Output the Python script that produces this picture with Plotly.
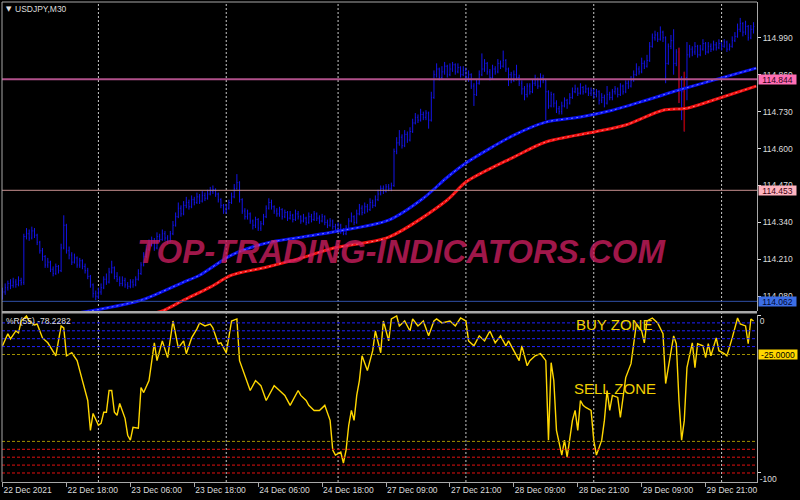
import plotly.graph_objects as go

# ---------------- data ----------------
# USDJPY M30 bars, first bar = 22 Dec 2021 06:00 (bar index = 30-minute steps, weekend removed)
close = [114.095,114.110,114.125,114.118,114.130,114.122,114.135,114.128,114.290,114.300,
114.285,114.310,114.295,114.270,114.240,114.220,114.190,114.200,114.175,114.160,
114.185,114.170,114.250,114.330,114.240,114.225,114.200,114.215,114.190,114.205,
114.185,114.170,114.150,114.120,114.090,114.080,114.095,114.110,114.140,114.130,
114.165,114.180,114.150,114.140,114.125,114.135,114.120,114.115,114.130,114.120,
114.140,114.160,114.190,114.220,114.245,114.260,114.275,114.250,114.290,114.280,
114.300,114.285,114.275,114.300,114.330,114.360,114.390,114.370,114.400,114.410,
114.395,114.420,114.410,114.430,114.415,114.435,114.425,114.440,114.450,114.455,
114.440,114.420,114.400,114.380,114.390,114.410,114.430,114.460,114.480,114.420,
114.380,114.360,114.370,114.345,114.330,114.350,114.320,114.335,114.360,114.390,
114.410,114.395,114.380,114.370,114.385,114.360,114.375,114.355,114.365,114.350,
114.370,114.360,114.345,114.355,114.340,114.360,114.350,114.370,114.355,114.345,
114.360,114.340,114.330,114.345,114.325,114.315,114.330,114.310,114.300,114.320,
114.345,114.360,114.340,114.370,114.390,114.375,114.395,114.385,114.410,114.400,
114.420,114.440,114.460,114.450,114.465,114.460,114.470,114.590,114.620,114.640,
114.610,114.650,114.630,114.660,114.690,114.710,114.700,114.720,114.710,114.725,
114.700,114.780,114.860,114.880,114.850,114.870,114.890,114.860,114.880,114.895,
114.870,114.885,114.860,114.875,114.850,114.860,114.820,114.790,114.830,114.860,
114.880,114.900,114.870,114.850,114.880,114.870,114.900,114.890,114.910,114.880,
114.860,114.840,114.860,114.850,114.830,114.810,114.790,114.820,114.800,114.830,
114.845,114.820,114.850,114.840,114.800,114.750,114.790,114.760,114.740,114.730,
114.750,114.770,114.760,114.780,114.800,114.810,114.795,114.815,114.800,114.810,
114.795,114.805,114.790,114.800,114.770,114.780,114.760,114.790,114.780,114.800,
114.810,114.790,114.820,114.800,114.830,114.820,114.840,114.860,114.880,114.870,
114.900,114.890,114.910,114.960,114.990,115.000,114.985,115.010,114.990,114.900,
114.960,114.980,114.900,114.940,114.850,114.800,114.850,114.930,114.950,114.940,
114.960,114.930,114.950,114.970,114.940,114.960,114.950,114.965,114.955,114.970,
114.960,114.975,114.950,114.960,114.980,114.995,115.020,115.040,115.010,115.030,
114.990,115.020,115.030]

high = [114.110,114.125,114.135,114.140,114.145,114.140,114.150,114.145,114.300,114.320,
114.315,114.325,114.320,114.300,114.275,114.250,114.225,114.215,114.205,114.185,
114.195,114.190,114.265,114.365,114.335,114.255,114.235,114.230,114.220,114.215,
114.210,114.195,114.180,114.155,114.125,114.100,114.110,114.125,114.150,114.160,
114.180,114.205,114.185,114.165,114.150,114.150,114.145,114.130,114.140,114.140,
114.150,114.175,114.200,114.235,114.260,114.280,114.290,114.285,114.305,114.300,
114.315,114.310,114.295,114.310,114.345,114.375,114.410,114.400,114.415,114.430,
114.420,114.435,114.430,114.445,114.440,114.450,114.445,114.455,114.465,114.470,
114.460,114.445,114.425,114.405,114.405,114.420,114.445,114.475,114.510,114.485,
114.425,114.390,114.385,114.375,114.350,114.360,114.355,114.345,114.370,114.400,
114.425,114.420,114.400,114.390,114.395,114.390,114.385,114.380,114.380,114.370,
114.385,114.380,114.365,114.370,114.360,114.375,114.370,114.380,114.375,114.365,
114.370,114.365,114.350,114.355,114.350,114.335,114.340,114.335,114.320,114.330,
114.355,114.375,114.365,114.385,114.405,114.400,114.410,114.405,114.425,114.420,
114.435,114.455,114.470,114.470,114.475,114.475,114.480,114.600,114.640,114.665,
114.650,114.665,114.660,114.675,114.705,114.725,114.720,114.740,114.730,114.735,
114.730,114.800,114.875,114.900,114.885,114.890,114.905,114.895,114.900,114.905,
114.900,114.900,114.890,114.890,114.885,114.875,114.865,114.830,114.845,114.875,
114.935,114.915,114.905,114.880,114.895,114.890,114.915,114.910,114.945,114.915,
114.885,114.870,114.875,114.895,114.860,114.840,114.820,114.830,114.830,114.845,
114.860,114.850,114.865,114.860,114.845,114.805,114.800,114.795,114.770,114.750,
114.765,114.780,114.775,114.795,114.815,114.825,114.815,114.830,114.820,114.825,
114.815,114.815,114.810,114.810,114.805,114.795,114.790,114.820,114.800,114.810,
114.820,114.815,114.830,114.825,114.840,114.840,114.855,114.875,114.900,114.890,
114.920,114.910,114.930,114.975,115.005,115.015,115.010,115.030,115.015,114.995,
114.970,115.000,115.020,114.950,114.955,114.855,114.870,114.975,114.965,114.960,
114.975,114.965,114.965,114.985,114.975,114.975,114.970,114.980,114.975,114.985,
114.975,114.985,114.980,114.970,114.995,115.010,115.040,115.060,115.045,115.050,
115.035,115.035,115.045]

low = [114.068,114.085,114.100,114.105,114.110,114.110,114.115,114.118,114.120,114.280,
114.275,114.280,114.285,114.260,114.230,114.205,114.180,114.180,114.165,114.150,
114.155,114.160,114.165,114.245,114.230,114.210,114.190,114.195,114.180,114.180,
114.175,114.160,114.140,114.110,114.075,114.066,114.070,114.085,114.105,114.120,
114.125,114.160,114.140,114.130,114.115,114.115,114.110,114.105,114.108,114.110,
114.115,114.135,114.155,114.185,114.215,114.240,114.255,114.240,114.245,114.270,
114.275,114.275,114.265,114.270,114.295,114.325,114.355,114.360,114.365,114.390,
114.385,114.390,114.400,114.405,114.405,114.410,114.415,114.420,114.435,114.440,
114.430,114.410,114.390,114.370,114.370,114.385,114.405,114.425,114.455,114.410,
114.370,114.350,114.350,114.335,114.315,114.320,114.310,114.310,114.330,114.355,
114.385,114.385,114.370,114.360,114.360,114.350,114.355,114.345,114.350,114.340,
114.345,114.350,114.335,114.340,114.330,114.335,114.340,114.345,114.345,114.335,
114.340,114.330,114.320,114.325,114.315,114.305,114.305,114.300,114.295,114.295,
114.315,114.340,114.330,114.335,114.365,114.365,114.370,114.375,114.380,114.390,
114.395,114.415,114.435,114.440,114.445,114.450,114.450,114.465,114.580,114.610,
114.600,114.605,114.620,114.625,114.655,114.685,114.690,114.695,114.700,114.700,
114.670,114.695,114.775,114.850,114.840,114.845,114.860,114.850,114.855,114.870,
114.860,114.865,114.850,114.855,114.840,114.835,114.810,114.750,114.785,114.825,
114.855,114.870,114.860,114.840,114.845,114.860,114.865,114.880,114.885,114.870,
114.820,114.830,114.835,114.840,114.820,114.790,114.770,114.780,114.790,114.795,
114.820,114.810,114.815,114.830,114.700,114.740,114.745,114.745,114.725,114.720,
114.720,114.745,114.740,114.755,114.775,114.795,114.785,114.790,114.790,114.795,
114.785,114.785,114.775,114.780,114.755,114.760,114.745,114.755,114.770,114.770,
114.790,114.780,114.785,114.790,114.795,114.810,114.815,114.835,114.855,114.860,
114.865,114.880,114.885,114.905,114.955,114.980,114.975,114.980,114.975,114.830,
114.895,114.950,114.860,114.890,114.760,114.700,114.660,114.770,114.920,114.925,
114.930,114.920,114.925,114.945,114.930,114.935,114.940,114.945,114.945,114.950,
114.945,114.955,114.940,114.945,114.955,114.975,114.990,115.010,114.995,115.000,
114.980,114.985,115.005]

first_open = 114.085
dark_bars = [254, 256]          # bars drawn in dark red

# moving averages (bar index, value)
ma_fast_bar = [28, 37, 52, 68, 74, 86, 99, 112, 124, 145, 158, 167, 174, 192, 204, 217, 229, 242, 254, 267, 283]
ma_fast_val = [114.021, 114.035, 114.066, 114.130, 114.154, 114.225, 114.267, 114.288, 114.306, 114.348,
               114.425, 114.499, 114.549, 114.647, 114.693, 114.711, 114.735, 114.771, 114.806, 114.841, 114.883]
ma_slow_bar = [57, 60, 68, 78, 86, 99, 112, 124, 145, 167, 174, 192, 204, 222, 234, 248, 257, 267, 283]
ma_slow_val = [114.021, 114.028, 114.066, 114.112, 114.154, 114.182, 114.214, 114.249, 114.288, 114.419,
               114.482, 114.570, 114.623, 114.658, 114.683, 114.735, 114.742, 114.771, 114.820]

# Williams %R(55)
wr_bar = [0,2,3,5,6,7,9,10,12,13,15,17,20,22,23,24,26,28,30,32,33,34,36,37,38,39,40,41,42,43,44,46,47,48,49,51,
          52,53,55,57,58,60,62,64,66,68,69,71,73,74,76,78,79,81,82,84,86,88,89,91,93,95,97,99,100,102,104,106,
          108,109,111,112,114,115,117,119,121,123,124,125,127,128,129,130,131,132,133,134,135,137,138,139,140,
          142,143,145,146,148,149,151,153,154,156,158,160,162,163,165,168,170,172,174,175,177,179,181,183,185,
          187,189,190,192,194,195,197,198,200,202,203,204,205,206,207,208,210,211,212,214,215,216,217,218,219,
          221,222,223,225,226,227,228,229,231,232,234,236,237,238,240,241,242,244,246,248,249,250,252,253,254,
          255,256,257,259,260,261,263,264,265,266,268,269,271,272,274,276,277,279,280,281,282]
wr_val = [-19.5,-11.9,-15.1,-10.1,-11.3,-3.8,-0.6,-3.8,-6.3,-5.7,-14.5,-17.6,-25.8,-6.9,-8.2,-25.8,-23.9,-28.9,
          -41.5,-54.1,-73.0,-62.3,-69.8,-68.6,-61.6,-61.6,-47.8,-47.8,-61.6,-63.5,-56.0,-65.4,-76.1,-79.2,-71.1,
          -71.7,-45.9,-49.1,-41.5,-17.6,-28.9,-16.4,-27.0,-3.8,-20.8,-16.4,-24.5,-14.5,-8.8,-5.0,-6.9,-5.7,-8.2,
          -18.2,-17.6,-23.9,-3.8,-2.5,-28.9,-38.4,-47.8,-41.5,-44.7,-54.1,-50.9,-44.7,-47.8,-50.9,-57.2,-54.1,
          -47.8,-50.9,-54.1,-57.2,-60.4,-60.4,-57.2,-66.7,-85.5,-88.7,-86.8,-93.7,-85.5,-69.8,-60.4,-66.7,-50.9,
          -41.5,-25.8,-35.2,-28.9,-22.6,-10.1,-23.9,-3.8,-16.4,-2.5,-0.6,-6.9,-3.8,-10.1,-2.5,-6.9,-3.8,-13.2,
          -3.8,-2.5,-5.0,-3.8,-6.9,-1.9,-3.8,-16.4,-19.5,-13.2,-16.4,-10.1,-17.6,-13.2,-19.5,-16.4,-22.6,-28.9,
          -19.5,-32.1,-28.9,-25.8,-24.5,-26.4,-28.9,-79.2,-30.2,-41.5,-73.0,-88.7,-79.2,-89.9,-66.7,-60.4,-73.0,
          -54.1,-57.2,-58.5,-60.4,-79.2,-88.7,-79.2,-66.7,-47.8,-60.4,-50.9,-52.2,-64.8,-39.6,-30.8,-16.4,-5.7,
          -10.1,-17.6,-3.8,-1.9,-5.0,-11.9,-43.4,-33.3,-13.2,-18.2,-54.1,-79.2,-66.7,-33.3,-17.6,-33.3,-18.2,
          -19.5,-27.0,-18.2,-25.8,-14.5,-22.6,-24.5,-25.8,-14.5,-1.9,-5.7,-6.9,-18.2,-2.5,-3.8]

# horizontal price lines
hline_vals = [114.844, 114.453, 114.062]
hline_text = ["114.844", "114.453", "114.062"]

# %R levels
wr_levels_blue = [-5, -10, -15, -20]
wr_levels_olive = [-25, -80]
wr_levels_red = [-85, -90, -95, -100]

# axis ticks
price_ticks = [114.990, 114.860, 114.730, 114.600, 114.470, 114.340, 114.210, 114.080]
time_tick_bars = [0, 24, 48, 72, 96, 120, 144, 168, 192, 216, 240, 264]
time_tick_text = ["22 Dec 2021", "22 Dec 18:00", "23 Dec 06:00", "23 Dec 18:00", "24 Dec 06:00",
                  "24 Dec 18:00", "27 Dec 09:00", "27 Dec 21:00", "28 Dec 09:00", "28 Dec 21:00",
                  "29 Dec 09:00", "29 Dec 21:00"]
day_start_bars = [36, 84, 126, 174, 222, 270]

# ---------------- figure ----------------
W, HP = 800, 500
ML, MR, MT, MB = 2, 43, 2, 18
PW, PH = W - ML - MR, HP - MT - MB


def fx(x):
    return (x - ML) / PW


def fy(y):
    return (HP - MB - y) / PH


FONT = "Liberation Sans, Arial, sans-serif"
TXT = "#dcdcdc"
GREY = "#a8a8a8"
BLUE = "#1414e8"

opens = [first_open] + close[:-1]
bars = list(range(len(close)))

fig = go.Figure()
fig.add_trace(go.Ohlc(x=bars, open=opens, high=high, low=low, close=close,
                      increasing_line_color=BLUE, decreasing_line_color=BLUE,
                      line_width=1, tickwidth=0.3, xaxis="x", yaxis="y", hoverinfo="skip"))
fig.add_trace(go.Ohlc(x=dark_bars, open=[opens[i] for i in dark_bars], high=[high[i] for i in dark_bars],
                      low=[low[i] for i in dark_bars], close=[close[i] for i in dark_bars],
                      increasing_line_color="#a00000", decreasing_line_color="#a00000",
                      line_width=1.5, tickwidth=0.3, xaxis="x", yaxis="y", hoverinfo="skip"))
fig.add_trace(go.Scatter(x=ma_slow_bar, y=ma_slow_val, mode="lines",
                         line=dict(color="#f01010", width=3, shape="spline", smoothing=0.8),
                         xaxis="x", yaxis="y", hoverinfo="skip"))
fig.add_trace(go.Scatter(x=ma_slow_bar, y=ma_slow_val, mode="lines",
                         line=dict(color="#ff8080", width=1, dash="2px,3px", shape="spline", smoothing=0.8),
                         xaxis="x", yaxis="y", hoverinfo="skip"))
fig.add_trace(go.Scatter(x=ma_fast_bar, y=ma_fast_val, mode="lines",
                         line=dict(color="#0a10f0", width=3, shape="spline", smoothing=0.8),
                         xaxis="x", yaxis="y", hoverinfo="skip"))
fig.add_trace(go.Scatter(x=ma_fast_bar, y=ma_fast_val, mode="lines",
                         line=dict(color="#7080ff", width=1, dash="2px,3px", shape="spline", smoothing=0.8),
                         xaxis="x", yaxis="y", hoverinfo="skip"))
fig.add_trace(go.Scatter(x=wr_bar, y=wr_val, mode="lines", line=dict(color="#ffd700", width=1.4),
                         xaxis="x2", yaxis="y2", hoverinfo="skip"))

shapes = []
# vertical day grid
for b in day_start_bars:
    shapes.append(dict(type="line", xref="x", x0=b, x1=b, yref="paper", y0=0, y1=1, layer="below",
                       line=dict(color="#c8c8c8", width=1, dash="2px,2px")))
# price lines
hl_colors = ["#b0508a", "#c89090", "#3050a8"]
hl_widths = [2, 1, 1]
for v, c, w in zip(hline_vals, hl_colors, hl_widths):
    shapes.append(dict(type="line", xref="x domain", x0=0, x1=1, yref="y", y0=v, y1=v,
                       line=dict(color=c, width=w)))
# %R levels
for lv_list, col in [(wr_levels_blue, "#2020ff"), (wr_levels_olive, "#a09000"), (wr_levels_red, "#e01010")]:
    for lv in lv_list:
        shapes.append(dict(type="line", xref="x2 domain", x0=0, x1=1, yref="y2", y0=lv, y1=lv,
                           line=dict(color=col, width=1, dash="3px,2px")))
# frame
shapes.append(dict(type="rect", xref="paper", x0=0, x1=1, yref="paper", y0=fy(313.5), y1=fy(311),
                   fillcolor=GREY, line=dict(width=0)))
shapes.append(dict(type="line", xref="paper", x0=0, x1=0, yref="paper", y0=0, y1=1,
                   line=dict(color=GREY, width=1)))
shapes.append(dict(type="line", xref="paper", x0=0, x1=1, yref="paper", y0=1, y1=1,
                   line=dict(color=GREY, width=1)))

ann = []
ann.append(dict(text="<b><i>TOP-TRADING-INDICATORS.COM</i></b>", xref="paper", yref="paper",
                x=fx(401), y=fy(251), xanchor="center", yanchor="middle", showarrow=False,
                font=dict(family=FONT, size=33, color="rgba(205,30,95,0.78)")))
ann.append(dict(text="▼", xref="paper", yref="paper", x=fx(4), y=fy(9), xanchor="left", yanchor="middle",
                showarrow=False, font=dict(family="DejaVu Sans", size=7, color="#e0e0e0")))
ann.append(dict(text="USDJPY,M30", xref="paper", yref="paper", x=fx(13), y=fy(9), xanchor="left",
                yanchor="middle", showarrow=False, font=dict(family=FONT, size=8.5, color=TXT)))
ann.append(dict(text="%R(55) -78.2282", xref="paper", yref="paper", x=fx(4), y=fy(321), xanchor="left",
                yanchor="middle", showarrow=False, font=dict(family=FONT, size=8.5, color=TXT)))
ann.append(dict(text="BUY ZONE", xref="paper", yref="paper", x=fx(574), y=fy(324), xanchor="left",
                yanchor="middle", showarrow=False, font=dict(family=FONT, size=15, color="#f0d000")))
ann.append(dict(text="SELL ZONE", xref="paper", yref="paper", x=fx(572), y=fy(388.5), xanchor="left",
                yanchor="middle", showarrow=False, font=dict(family=FONT, size=15, color="#f0d000")))
box_bg = ["#ff6eb4", "#ffb4c0", "#3c6ee6"]
box_fg = ["#300018", "#400010", "#000830"]
for v, t, bg, fg in zip(hline_vals, hline_text, box_bg, box_fg):
    ann.append(dict(text=t, xref="paper", yref="y", x=1, y=v, xanchor="left", yanchor="middle",
                    xshift=1, showarrow=False, bgcolor=bg, width=37, height=9, borderpad=0,
                    font=dict(family=FONT, size=8.5, color=fg)))
ann.append(dict(text="-25.0000", xref="paper", yref="y2", x=1, y=-25, xanchor="left", yanchor="middle",
                xshift=1, showarrow=False, bgcolor="#ffd700", width=38, height=9, borderpad=0,
                font=dict(family=FONT, size=8.5, color="#000000")))

fig.update_layout(
    width=W, height=HP, margin=dict(l=ML, r=MR, t=MT, b=MB),
    paper_bgcolor="#000000", plot_bgcolor="#000000", showlegend=False,
    shapes=shapes, annotations=ann,
    xaxis=dict(domain=[0, 1], range=[-0.2, 283.3], anchor="y", showticklabels=False, showgrid=False,
               zeroline=False, showline=False, ticks="", rangeslider=dict(visible=False), fixedrange=True),
    xaxis2=dict(domain=[0, 1], range=[-0.2, 283.3], anchor="y2", matches="x", tickmode="array",
                tickvals=time_tick_bars, ticktext=time_tick_text, ticks="outside", ticklen=4,
                tickcolor=GREY, showline=True, linecolor=GREY, linewidth=1, showgrid=False, zeroline=False,
                ticklabelposition="outside right", tickfont=dict(family=FONT, size=8.5, color=TXT)),
    yaxis=dict(domain=[fy(311), 1], range=[114.028, 115.116], anchor="x", side="right", tickmode="array",
               tickvals=price_ticks, tickformat=".3f", ticks="outside", ticklen=3, tickcolor=TXT,
               showline=True, linecolor=GREY, showgrid=False, zeroline=False,
               tickfont=dict(family=FONT, size=8.5, color=TXT)),
    yaxis2=dict(domain=[0, fy(315)], range=[-105.7, 0], anchor="x2", side="right", tickmode="array",
                tickvals=[0, -100], ticktext=["0", "-100"], ticks="outside", ticklen=3, tickcolor=TXT,
                ticklabelposition="outside bottom", showline=True, linecolor=GREY, showgrid=False,
                zeroline=False, tickfont=dict(family=FONT, size=8.5, color=TXT)),
)

fig.write_html("out.html", config=dict(displayModeBar=False),
               post_script="document.body.style.margin='0';document.body.style.background='#000';")
